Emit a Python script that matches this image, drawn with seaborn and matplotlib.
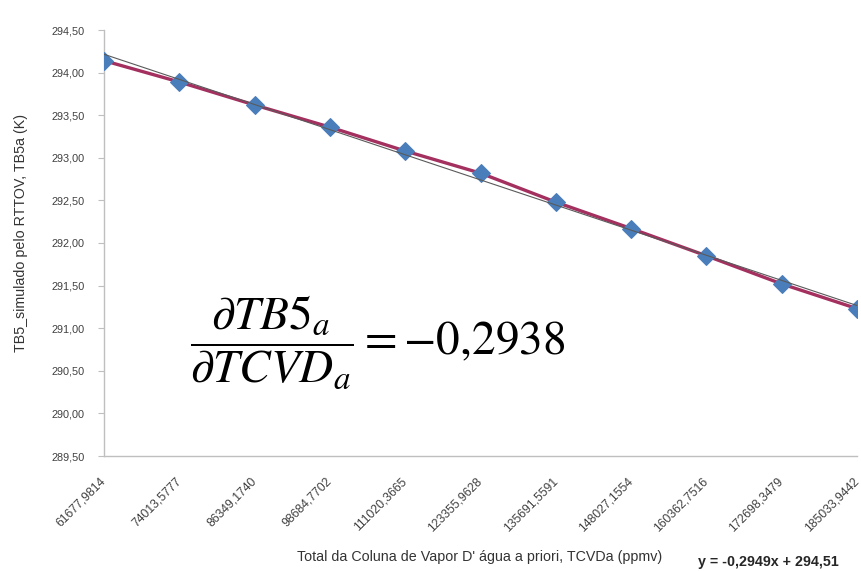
import numpy as np
import pandas as pd
import matplotlib
matplotlib.use("Agg")
import matplotlib.pyplot as plt
import seaborn as sns
from matplotlib.ticker import FuncFormatter

# x categories (TCVDa, ppmv) as shown on the axis
tcvd_labels = ["61677,9814", "74013,5777", "86349,1740", "98684,7702",
               "111020,3665", "123355,9628", "135691,5591", "148027,1554",
               "160362,7516", "172698,3479", "185033,9442"]
# simulated TB5a (K)
tb5 = [294.14, 293.89, 293.62, 293.36, 293.08, 292.82,
       292.48, 292.17, 291.85, 291.52, 291.23]
# Excel linear trendline shown on the chart: y = -0,2949x + 294,51
slope, intercept = -0.2949, 294.51

sns.set_theme(style="white")
plt.rcParams["font.family"] = ["Liberation Sans", "DejaVu Sans"]
plt.rcParams["mathtext.fontset"] = "stix"

df = pd.DataFrame({"pos": np.arange(len(tb5)), "tb5": tb5, "lab": tcvd_labels})
df["trend"] = slope * (df["pos"] + 1) + intercept

fig = plt.figure(figsize=(8.61, 5.71), dpi=100)
ax = fig.add_axes([104 / 861, 1 - 456 / 571, (857 - 104) / 861, (456 - 30) / 571])

sns.lineplot(data=df, x="pos", y="tb5", ax=ax, color="#A3305F", linewidth=2.4,
             marker="D", markersize=9, markerfacecolor="#4A7EBB",
             markeredgecolor="#4A7EBB", zorder=3)
sns.lineplot(data=df, x="pos", y="trend", ax=ax, color="#5a5a5a",
             linewidth=0.8, zorder=4)

ax.set_xlim(0, len(tb5) - 1)
ax.set_ylim(289.5, 294.5)
ax.set_yticks(np.arange(289.5, 294.51, 0.5))
ax.yaxis.set_major_formatter(FuncFormatter(lambda v, p: f"{v:.2f}".replace(".", ",")))
ax.set_xticks(df["pos"])
ax.set_xticklabels(df["lab"], rotation=45, ha="right", va="center",
                   rotation_mode="anchor")

ax.tick_params(axis="y", which="major", left=True, length=4, width=0.8,
               color="#BFBFBF", pad=10, labelsize=7.8, labelcolor="#404040")
ax.tick_params(axis="x", bottom=False, pad=11, labelsize=8.8, labelcolor="#404040")

for s in ["top", "right"]:
    ax.spines[s].set_visible(False)
for s in ["left", "bottom"]:
    ax.spines[s].set_color("#BFBFBF")
    ax.spines[s].set_linewidth(1.0)

ax.set_xlabel("")
ax.set_ylabel("")
fig.text(21 / 861, 1 - 233 / 571, "TB5_simulado pelo RTTOV, TB5a (K)", rotation=90,
         ha="center", va="center", fontsize=10.3, color="#333333")
fig.text(480 / 861, 1 - 557 / 571,
         "Total da Coluna de Vapor D' água a priori, TCVDa (ppmv)",
         ha="center", va="center", fontsize=10.3, color="#333333")
fig.text(768 / 861, 1 - 562 / 571, "y = -0,2949x + 294,51", ha="center", va="center",
         fontsize=10.3, fontweight="bold", color="#262626")

fig.text(378 / 861, 1 - 342 / 571,
         r"$\dfrac{\partial TB5_a}{\partial TCVD_a} = -0{,}2938$",
         ha="center", va="center", fontsize=34, color="black")

fig.savefig("out.png", dpi=100)
